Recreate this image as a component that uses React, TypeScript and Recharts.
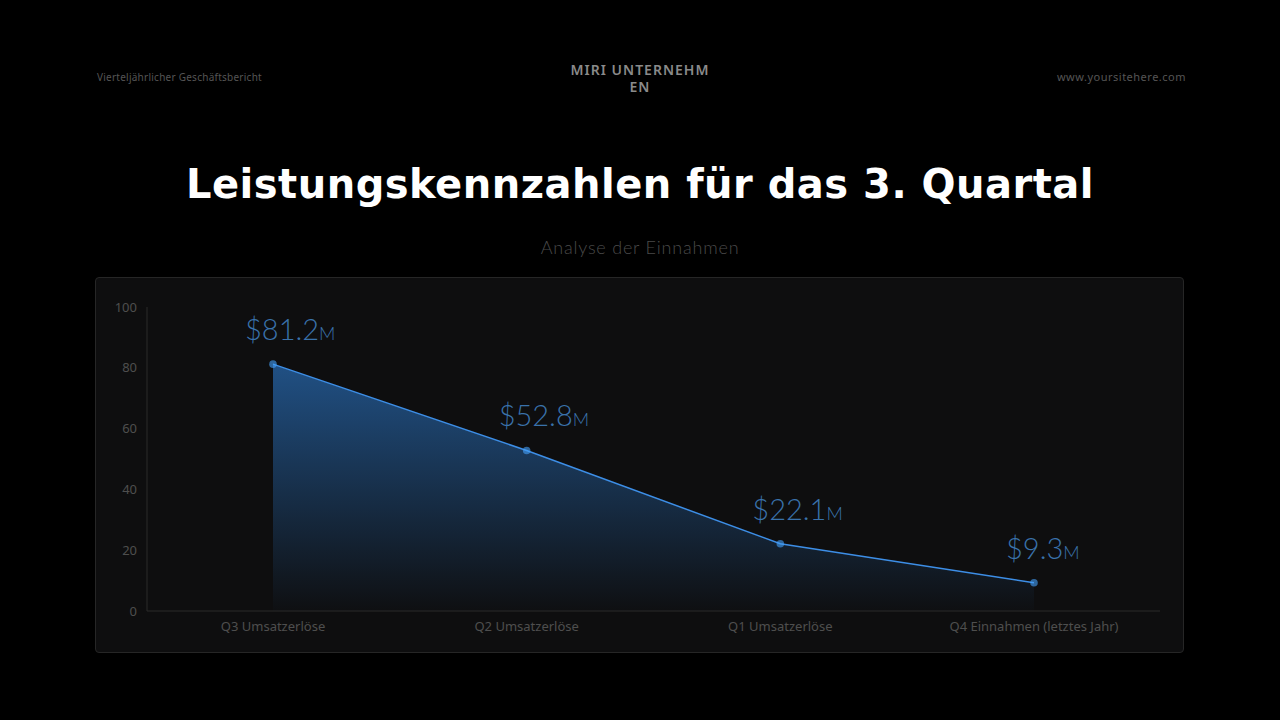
import React from "react"
import { AreaChart, Area, XAxis, YAxis, CartesianGrid } from "recharts"

const categories = ["Q3 Umsatzerlöse", "Q2 Umsatzerlöse", "Q1 Umsatzerlöse", "Q4 Einnahmen (letztes Jahr)"]
const revenue = [81.2, 52.8, 22.1, 9.3]
const revenueLabels = ["$81.2", "$52.8", "$22.1", "$9.3"]
const yTicks = [0, 20, 40, 60, 80, 100]

const data = categories.map((name, i) => ({ name, value: revenue[i], label: revenueLabels[i] }))

const BLUE = "#3d8ee6"

function ValueLabel(props: any) {
  const { x, y, index } = props
  return (
    <text x={x - 28} y={y - 24} fill="#3a72ab" fontFamily="Lato, 'Noto Sans', sans-serif" fontWeight={300}>
      <tspan fontSize={29}>{revenueLabels[index]}</tspan>
      <tspan fontSize={18}>M</tspan>
    </text>
  )
}

export default function App() {
  return (
    <div
      style={{
        position: "fixed",
        left: 0,
        top: 0,
        width: 1280,
        height: 720,
        background: "#000",
        fontFamily: "'Noto Sans', sans-serif",
        overflow: "hidden",
      }}
    >
      <div style={{ position: "absolute", left: 97, top: 70, fontSize: 10, letterSpacing: 0.25, color: "#555" }}>
        Vierteljährlicher Geschäftsbericht
      </div>
      <div
        style={{
          position: "absolute",
          left: 568,
          top: 61,
          width: 144,
          textAlign: "center",
          fontSize: 14,
          fontWeight: 600,
          letterSpacing: 1,
          lineHeight: "17px",
          color: "#8a8a8a",
          wordBreak: "break-all",
        }}
      >
        MIRI UNTERNEHMEN
      </div>
      <div style={{ position: "absolute", right: 94, top: 69, fontSize: 11, letterSpacing: 0.5, color: "#555" }}>
        www.yoursitehere.com
      </div>
      <div
        style={{
          position: "absolute",
          left: 0,
          width: 1280,
          top: 161,
          textAlign: "center",
          fontFamily: "'DejaVu Sans', sans-serif",
          fontWeight: 700,
          fontSize: 40,
          letterSpacing: 0.5,
          color: "#fff",
        }}
      >
        Leistungskennzahlen für das 3. Quartal
      </div>
      <div
        style={{
          position: "absolute",
          left: 0,
          width: 1280,
          top: 236,
          textAlign: "center",
          fontFamily: "Lato, sans-serif",
          fontWeight: 300,
          fontSize: 18,
          letterSpacing: 0.8,
          color: "#4a4a4a",
        }}
      >
        Analyse der Einnahmen
      </div>
      <div
        style={{
          position: "absolute",
          left: 95,
          top: 277,
          width: 1089,
          height: 376,
          boxSizing: "border-box",
          background: "#0e0e0f",
          border: "1px solid #262626",
          borderRadius: 4,
        }}
      >
        <AreaChart
          width={1087}
          height={374}
          data={data}
          margin={{ top: 29, right: 23, left: 0, bottom: 0 }}
        >
          <defs>
            <linearGradient id="revFill" x1="0" y1="0" x2="0" y2="1">
              <stop offset="0%" stopColor="#3290f5" stopOpacity={0.85} />
              <stop offset="100%" stopColor="#3290f5" stopOpacity={0.02} />
            </linearGradient>
          </defs>
          <CartesianGrid stroke="none" />
          <XAxis
            dataKey="name"
            height={41}
            padding={{ left: 126, right: 126 }}
            axisLine={{ stroke: "#2a2a2a" }}
            tickLine={false}
            tick={{ fill: "#4e4e4e", fontSize: 13, fontFamily: "'Noto Sans', sans-serif" }}
            tickMargin={5}
          />
          <YAxis
            width={51}
            domain={[0, 100]}
            ticks={yTicks}
            axisLine={{ stroke: "#2a2a2a" }}
            tickLine={false}
            tick={{ fill: "#4e4e4e", fontSize: 13, fontFamily: "'Noto Sans', sans-serif" }}
            tickMargin={4}
          />
          <Area
            type="linear"
            dataKey="value"
            stroke={BLUE}
            strokeWidth={1.5}
            fill="url(#revFill)"
            dot={{ r: 3.8, fill: "#45a2fb", stroke: "none" }}
            activeDot={false}
            label={<ValueLabel />}
            isAnimationActive={false}
          />
        </AreaChart>
      </div>
    </div>
  )
}
